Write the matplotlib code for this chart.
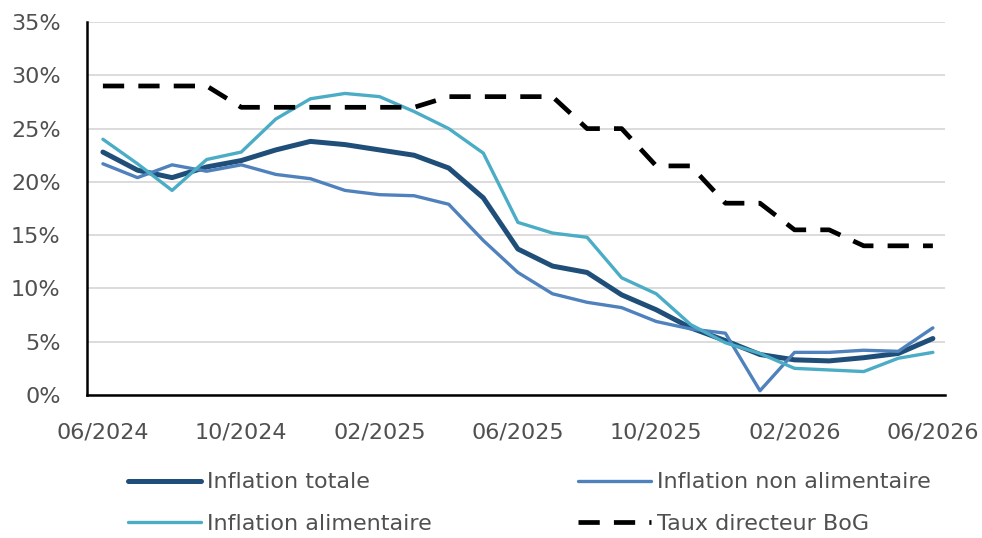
import matplotlib
matplotlib.use("Agg")
import matplotlib.pyplot as plt
from matplotlib.ticker import FuncFormatter, MultipleLocator

# Monthly data, 06/2024 -> 06/2026
months = [
    "06/2024", "07/2024", "08/2024", "09/2024", "10/2024", "11/2024", "12/2024",
    "01/2025", "02/2025", "03/2025", "04/2025", "05/2025", "06/2025", "07/2025",
    "08/2025", "09/2025", "10/2025", "11/2025", "12/2025", "01/2026", "02/2026",
    "03/2026", "04/2026", "05/2026", "06/2026",
]
tick_labels = ["06/2024", "10/2024", "02/2025", "06/2025", "10/2025", "02/2026", "06/2026"]

infl_totale = [22.8, 21.1, 20.4, 21.4, 22.0, 23.0, 23.8, 23.5, 23.0, 22.5, 21.3, 18.5, 13.7,
               12.1, 11.5, 9.4, 8.0, 6.3, 5.1, 3.8, 3.3, 3.2, 3.5, 3.9, 5.3]
infl_non_alim = [21.7, 20.4, 21.6, 21.0, 21.6, 20.7, 20.3, 19.2, 18.8, 18.7, 17.9, 14.5, 11.5,
                 9.5, 8.7, 8.2, 6.9, 6.2, 5.8, 0.4, 4.0, 4.0, 4.2, 4.1, 6.3]
infl_alim = [24.0, 21.7, 19.2, 22.1, 22.8, 25.9, 27.8, 28.3, 28.0, 26.6, 25.0, 22.7, 16.2,
             15.2, 14.8, 11.0, 9.5, 6.6, 4.9, 3.9, 2.5, 2.35, 2.2, 3.45, 4.0]
taux_bog = [29, 29, 29, 29, 27, 27, 27, 27, 27, 27, 28, 28, 28, 28, 25, 25, 21.5, 21.5,
            18, 18, 15.5, 15.5, 14, 14, 14]

TEXT = "#505050"
FS = 16
plt.rcParams["font.family"] = ["DejaVu Sans"]

fig = plt.figure(figsize=(9.82, 5.38), dpi=100)
ax = fig.add_axes([0.0886, 0.2658, 0.8737, 0.6932])

x = list(range(len(months)))
l1, = ax.plot(x, infl_totale, color="#1F4E79", lw=3.6, label="Inflation totale",
              solid_capstyle="round", zorder=3)
l2, = ax.plot(x, infl_non_alim, color="#4F81BD", lw=2.4, label="Inflation non alimentaire",
              solid_capstyle="round", zorder=4)
l3, = ax.plot(x, infl_alim, color="#4BACC6", lw=2.4, label="Inflation alimentaire",
              solid_capstyle="round", zorder=5)
l4, = ax.plot(x, taux_bog, color="black", lw=3.4, label="Taux directeur BoG",
              dashes=(4.5, 3.0), zorder=6)

ax.set_xlim(-0.46, 24.35)
ax.set_ylim(0, 35)
ax.yaxis.set_major_locator(MultipleLocator(5))
ax.yaxis.set_major_formatter(FuncFormatter(lambda v, p: f"{v:.0f}%"))
ax.set_xticks(x[::4])
ax.set_xticklabels(tick_labels)

ax.grid(axis="y", color="#D9D9D9", lw=1.3, zorder=0)
ax.set_axisbelow(True)
for side in ["top", "right"]:
    ax.spines[side].set_visible(False)
for side in ["left", "bottom"]:
    ax.spines[side].set_color("black")
    ax.spines[side].set_linewidth(1.8)
ax.tick_params(axis="both", length=0, labelsize=FS, colors=TEXT)
ax.tick_params(axis="x", pad=20)
ax.tick_params(axis="y", pad=19)

# two single-column legends, placed like the original
leg_kw = dict(loc="center left", frameon=False, fontsize=FS, handlelength=3.3,
              handletextpad=0.25, labelspacing=0.95, borderpad=0, borderaxespad=0,
              labelcolor=TEXT, bbox_transform=fig.transFigure)
fig.legend(handles=[l1, l3], bbox_to_anchor=(128 / 982, 1 - 503 / 538), **leg_kw)
fig.legend(handles=[l2, l4], bbox_to_anchor=(578 / 982, 1 - 503 / 538), **leg_kw)

fig.savefig("out.png", dpi=100)
